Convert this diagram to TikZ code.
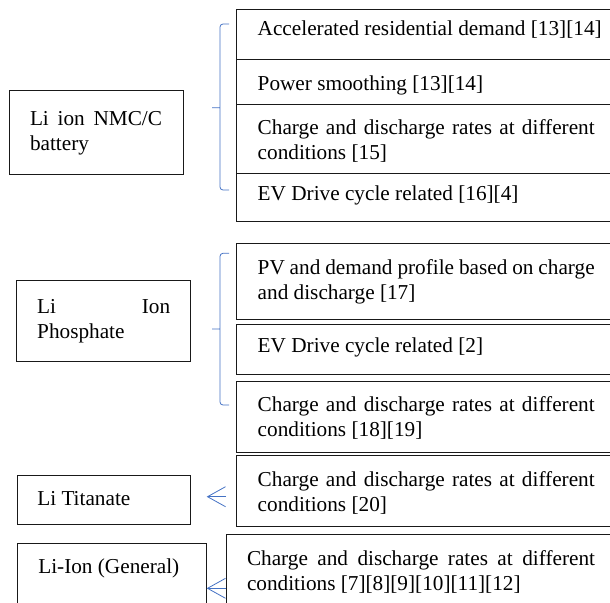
\documentclass[tikz,border=0pt]{standalone}
\usepackage{fontspec}
\setmainfont{Liberation Serif}
\usepackage{xcolor}
\usepackage{tikz}
\usetikzlibrary{arrows.meta}
\definecolor{wordblue}{RGB}{68,114,196}
\tikzset{
    base/.style={draw=black!90, line width=0.9pt, font=\fontsize{21.25pt}{25pt}\selectfont, align=justify, inner ysep=0pt, outer sep=0pt, anchor=base west,
        execute at begin node={\hyphenpenalty=10000\relax\tolerance=10000\relax}},
    block/.style={base, inner xsep=21pt, text width=#1},
    vext/.style 2 args={text height=#1, text depth=#2},
    brace/.style={draw=wordblue, line width=0.8pt, rounded corners=3pt},
    line/.style={draw=wordblue, line width=0.8pt, -{Straight Barb[length=18pt, width=20pt]}}
}

\begin{document}
\begin{tikzpicture}[x=1pt, y=-1pt]
    \clip (0,0) rectangle (610,602);

    \node [block=132pt, vext={35pt}{49pt}] (NMC) at (9,125) {Li ion NMC/C battery};
    \node [block=133pt, inner xsep=20.5pt, vext={32.6pt}{48.4pt}] (Phosphate) at (16.7,313.3) {Li Ion Phosphate};
    \node [block=133.4pt, inner xsep=20pt, vext={30.7pt}{18.6pt}] (Titanate) at (17.3,505.7) {Li Titanate};
    \node [block=146.7pt, vext={30pt}{46.7pt}] (General) at (17.3,573.3) {Li-Ion (General)};

    \node [block=350pt, vext={26.2pt}{23.8pt}] (NMC_A) at (236.7,35.5) {Accelerated residential demand [13][14]};
    \node [block=337pt, vext={31.4pt}{13.6pt}] (NMC_B) at (236.7,90.7) {Power smoothing [13][14]};
    \node [block=337pt, vext={30.2pt}{38.8pt}] (NMC_C) at (236.7,134.5) {Charge and discharge rates at different conditions [15]};
    \node [block=337pt, vext={26.7pt}{21.7pt}] (NMC_D) at (236.7,200) {EV Drive cycle related [16][4]};

    \node [block=337pt, vext={31.2pt}{44.5pt}] (Phos_A) at (236.7,274.5) {PV and demand profile based on charge and discharge [17]};
    \node [block=337pt, vext={28.2pt}{21.8pt}] (Phos_B) at (236.7,352.5) {EV Drive cycle related [2]};
    \node [block=337pt, vext={29.8pt}{40.5pt}] (Phos_C) at (236.7,411.5) {Charge and discharge rates at different conditions [18][19]};

    \node [block=337pt, vext={31pt}{40pt}] (Tit_A) at (236.7,486) {Charge and discharge rates at different conditions [20]};
    \node [block=348pt, inner xsep=20.3pt, vext={30.7pt}{55pt}] (Gen_A) at (226.7,565) {Charge and discharge rates at different conditions [7][8][9][10][11][12]};

    \draw [brace] (229,24) -| (220,190) -- (229,190) (220,107.7) -- (212,107.7);
    \draw [brace] (229,253.3) -| (220,405) -- (229,405) (220,329) -- (212,329);

    \coordinate (TitS) at (226,496.7);
    \coordinate (TitE) at (206.7,496.7);
    \coordinate (GenS) at (226,588.3);
    \coordinate (GenE) at (206.7,588.3);
    \draw [line] (TitS) -- (TitE);
    \draw [line] (GenS) -- (GenE);
\end{tikzpicture}
\end{document}
